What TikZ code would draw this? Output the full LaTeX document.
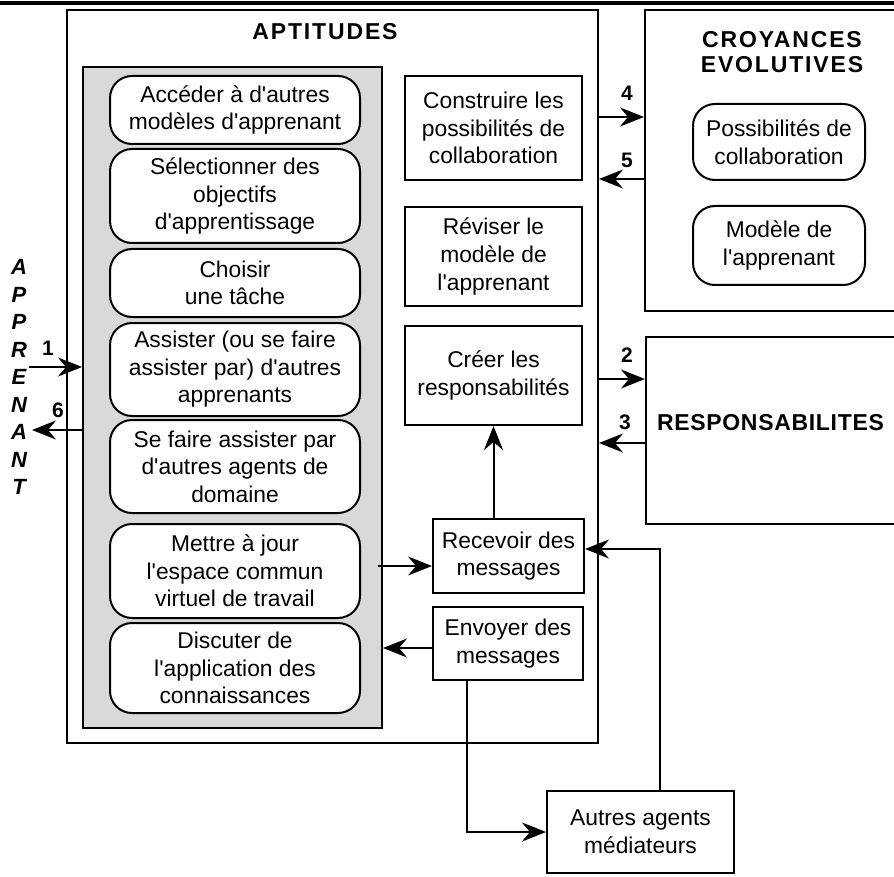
\documentclass[tikz,border=0pt]{standalone}
\usepackage{fontspec}
\setmainfont{Liberation Sans}[Ligatures=TeXOff]
\newfontfamily\titlefont{Liberation Sans}[LetterSpace=8]
\newfontfamily\resptitlefont{Liberation Sans}[LetterSpace=3]
\usetikzlibrary{arrows.meta,positioning}

\begin{document}
\begin{tikzpicture}[x=0.5pt, y=-0.5pt, line width=1pt,
  every node/.style={font=\fontsize{11.4}{13.8}\selectfont, align=center, inner sep=0pt},
  box/.style={draw, minimum width=88.5pt},
  rbox/.style={draw, fill=white, rounded corners=11pt, minimum width=125pt},
  title/.style={font=\titlefont\bfseries\fontsize{11.5}{12.5}\selectfont},
  num/.style={font=\bfseries\fontsize{10.5}{12}\selectfont},
  arr/.style={-{Stealth[length=12pt,width=9.5pt,inset=4pt]}}]

\useasboundingbox (0,0) rectangle (894,877);
\draw[line width=1.6pt] (0,3) -- (894,3);

% aptitudes
\node[draw, minimum width=265.5pt, minimum height=366.5pt] (apt) at (332.5,376.5) {};
\node[title] (apttitle) at (325,32) {APTITUDES};
\node[draw, fill=gray!30, minimum width=149.5pt, minimum height=330.5pt] (panel) at (232.5,397.5) {};

\node[rbox, minimum height=34pt] (acc) at (235,110) {Accéder à d'autres\\modèles d'apprenant};
\node[rbox, minimum height=47pt] (sel) at (235,196) {Sélectionner des\\objectifs\\d'apprentissage};
\node[rbox, minimum height=34pt] (cho) at (235,283) {Choisir\\une tâche};
\node[rbox, minimum height=46.5pt] (ass) at (235,369.5) {Assister (ou se faire\\assister par) d'autres\\apprenants};
\node[rbox, minimum height=46.5pt] (dom) at (235,466.5) {Se faire assister par\\d'autres agents de\\domaine};
\node[rbox, minimum height=47pt] (maj) at (235,571) {Mettre à jour\\l'espace commun\\virtuel de travail};
\node[rbox, minimum height=45pt] (dis) at (235,668) {Discuter de\\l'application des\\connaissances};

\node[box, minimum height=52pt] (cons) at (493.5,128) {Construire les\\possibilités de\\collaboration};
\node[box, minimum height=49.5pt] (rev) at (493.5,256.5) {Réviser le\\modèle de\\l'apprenant};
\node[box, minimum height=49.5pt] (cree) at (493.5,375.5) {Créer les\\responsabilités};
\node[box, minimum width=75.5pt, minimum height=37pt] (recv) at (508.5,556) {Recevoir des\\messages};
\node[box, minimum width=75pt, minimum height=36.5pt] (env) at (508,643.5) {Envoyer des\\messages};

% croyances
\node[draw, minimum width=134pt, minimum height=150.5pt] (croy) at (779,160.5) {};
\node[title] (croytitle) at (782,52.5) {CROYANCES\\EVOLUTIVES};
\node[rbox, minimum width=86pt, minimum height=38pt] (poss) at (779,142) {Possibilités de\\collaboration};
\node[rbox, minimum width=86pt, minimum height=39.5pt] (mod) at (779,245.5) {Modèle de\\l'apprenant};

% responsabilites
\node[draw, minimum width=130pt, minimum height=93.5pt] (resp) at (776,430.5) {};
\node[font=\resptitlefont\bfseries\fontsize{11.5}{12.5}\selectfont, anchor=west] (resptitle) at (656,423) {RESPONSABILITES};

% autres agents
\node[box, minimum width=93.5pt, minimum height=41pt] (autres) at (640.5,832) {Autres agents\\médiateurs};

% apprenant
\node[font=\bfseries\itshape\fontsize{11}{13.75}\selectfont] (appr) at (19,377) {A\\P\\P\\R\\E\\N\\A\\N\\T};

\coordinate (in1) at (29,367);
\coordinate (out6) at (32,430);
\draw[arr] (in1) -- (in1 -| panel.west);
\draw[arr] (out6 -| panel.west) -- (out6);
\node[num] (n1) at (48,348) {1};
\node[num] (n6) at (58,410) {6};

% arrows to the right
\coordinate (y4) at (0,117);
\coordinate (y5) at (0,179);
\coordinate (y2) at (0,379);
\coordinate (y3) at (0,443);
\draw[arr] (apt.east |- y4) -- (croy.west |- y4);
\draw[arr] (croy.west |- y5) -- (apt.east |- y5);
\draw[arr] (apt.east |- y2) -- (resp.west |- y2);
\draw[arr] (resp.west |- y3) -- (apt.east |- y3);
\node[num] (n4) at (627,93) {4};
\node[num] (n5) at (627,160) {5};
\node[num] (n2) at (627,355) {2};
\node[num] (n3) at (625,422) {3};

% messages
\coordinate (m1) at (378,566);
\coordinate (y8) at (0,648);
\draw[arr] (m1) -- (m1 -| recv.west);
\draw[arr] (env.west |- y8) -- (panel.east |- y8);
\draw[arr] (cree.south |- recv.north) -- (cree.south);
\draw[arr] ([xshift=-20.5pt]env.south) |- (autres.west);
\draw[arr] ([xshift=9.75pt]autres.north) |- ([yshift=3.5pt]recv.east);

\end{tikzpicture}
\end{document}
